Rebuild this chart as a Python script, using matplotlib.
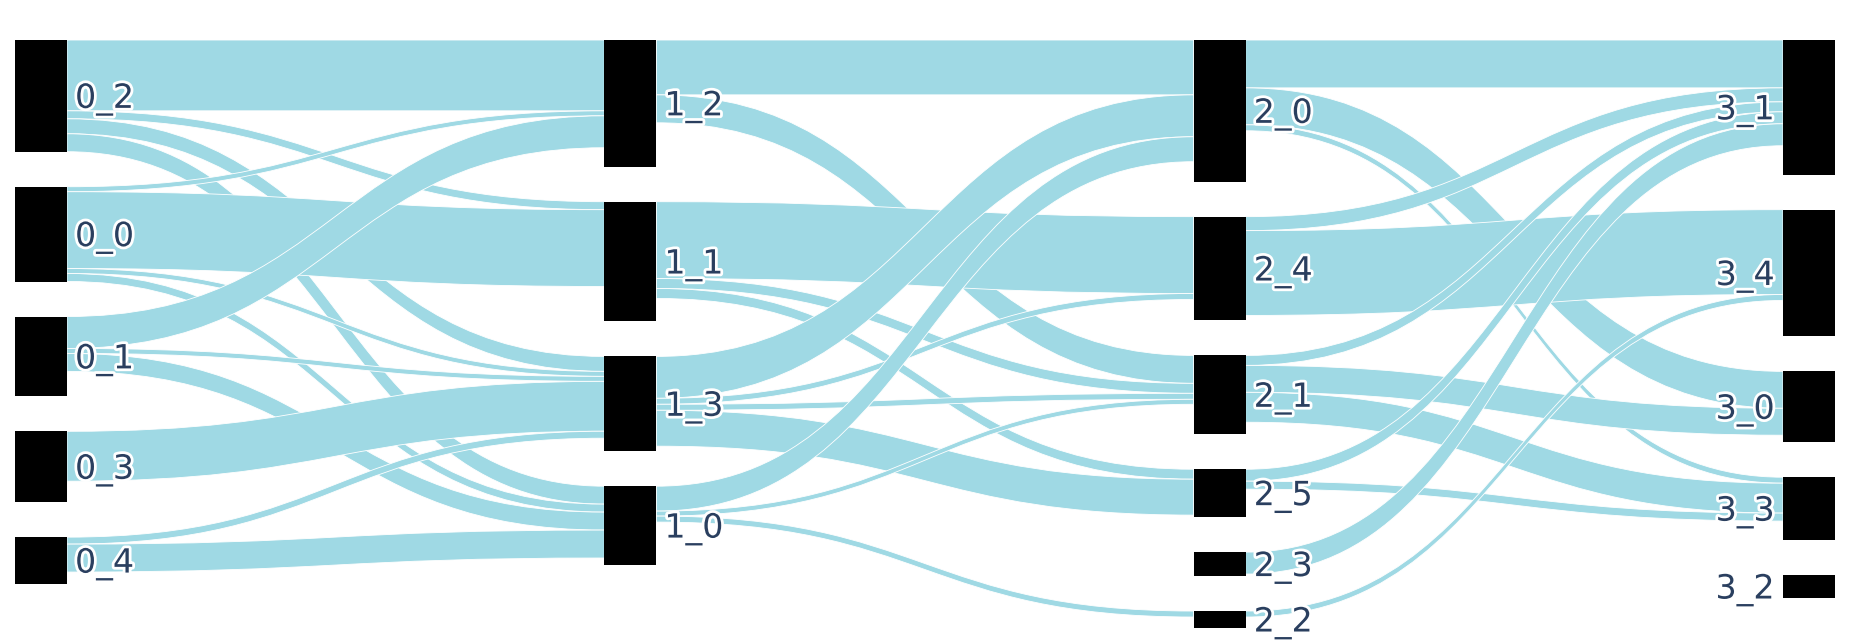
import matplotlib
matplotlib.use("Agg")
import matplotlib.pyplot as plt
from matplotlib.path import Path
from matplotlib.patches import PathPatch, Rectangle
import matplotlib.patheffects as pe

# nodes per layer, top to bottom, with their sizes
layer0 = ["0_2", "0_0", "0_1", "0_3", "0_4"]
layer0_size = [112, 95, 80, 71, 47]
layer1 = ["1_2", "1_1", "1_3", "1_0"]
layer1_size = [127, 120, 95, 79]
layer2 = ["2_0", "2_4", "2_1", "2_5", "2_3", "2_2"]
layer2_size = [142, 104, 79, 48, 24, 17]
layer3 = ["3_1", "3_4", "3_0", "3_3", "3_2"]
layer3_size = [135, 127, 71, 63, 23]

# flows
src = ["0_2", "0_2", "0_2", "0_2",
       "0_0", "0_0", "0_0", "0_0",
       "0_1", "0_1", "0_1",
       "0_3",
       "0_4", "0_4",
       "1_2", "1_2",
       "1_1", "1_1", "1_1",
       "1_3", "1_3", "1_3", "1_3",
       "1_0", "1_0", "1_0",
       "2_0", "2_0", "2_0",
       "2_4", "2_4",
       "2_1", "2_1", "2_1",
       "2_5", "2_5",
       "2_3",
       "2_2"]
dst = ["1_2", "1_1", "1_3", "1_0",
       "1_2", "1_1", "1_3", "1_0",
       "1_2", "1_3", "1_0",
       "1_3",
       "1_3", "1_0",
       "2_0", "2_1",
       "2_4", "2_1", "2_5",
       "2_0", "2_4", "2_1", "2_5",
       "2_0", "2_1", "2_2",
       "3_1", "3_0", "3_3",
       "3_1", "3_4",
       "3_1", "3_0", "3_3",
       "3_1", "3_3",
       "3_1",
       "3_4"]
flow = [71, 8, 15, 18,
        5, 77, 5, 8,
        32, 5, 18,
        50,
        7, 28,
        55, 28,
        77, 10, 10,
        42, 6, 6, 36,
        25, 5, 6,
        48, 37, 6,
        14, 85,
        10, 27, 30,
        12, 8,
        22,
        6]

W, H = 1850, 642
node_w = 52
pad_x = 15
gap = 35
top, bottom = 40, 628
link_color = "#9fd9e4"
text_color = "#2a3f5f"

layers = [(layer0, layer0_size), (layer1, layer1_size),
          (layer2, layer2_size), (layer3, layer3_size)]
ncol = len(layers)
col_step = (W - 2 * pad_x - node_w) / (ncol - 1)

ky = min((bottom - top - (len(n) - 1) * gap) / sum(s) for n, s in layers)

pos = {}
for ci, (names, sizes) in enumerate(layers):
    y = top
    for name, s in zip(names, sizes):
        h = s * ky
        pos[name] = (ci, pad_x + ci * col_step, y, h)
        y += h + gap

# stacking offsets of links at each node (plotly-like ordering)
links = list(zip(src, dst, flow))
out_off, in_off = {}, {}
for name in pos:
    outs = sorted([i for i, l in enumerate(links) if l[0] == name], key=lambda i: pos[links[i][1]][2])
    y = pos[name][2]
    for i in outs:
        out_off[i] = y
        y += links[i][2] * ky
    ins = sorted([i for i, l in enumerate(links) if l[1] == name], key=lambda i: pos[links[i][0]][2])
    y = pos[name][2]
    for i in ins:
        in_off[i] = y
        y += links[i][2] * ky

fig = plt.figure(figsize=(W / 100, H / 100), dpi=100)
ax = fig.add_axes([0, 0, 1, 1])
ax.set_xlim(0, W)
ax.set_ylim(H, 0)
ax.axis("off")

for i, (s, t, v) in enumerate(links):
    x0 = pos[s][1] + node_w
    x1 = pos[t][1]
    xm = (x0 + x1) / 2
    h = v * ky
    a0, b0 = out_off[i], in_off[i]
    a1, b1 = a0 + h, b0 + h
    verts = [(x0, a0), (xm, a0), (xm, b0), (x1, b0),
             (x1, b1), (xm, b1), (xm, a1), (x0, a1), (x0, a0)]
    codes = [Path.MOVETO, Path.CURVE4, Path.CURVE4, Path.CURVE4,
             Path.LINETO, Path.CURVE4, Path.CURVE4, Path.CURVE4, Path.CLOSEPOLY]
    ax.add_patch(PathPatch(Path(verts, codes), facecolor=link_color,
                           edgecolor="white", lw=0.6, zorder=1))

fs = 24
em = fs * 100 / 72
for name, (ci, x, y, h) in pos.items():
    ax.add_patch(Rectangle((x, y), node_w, h, facecolor="black", edgecolor="none", zorder=2))
    if ci < ncol - 1:
        tx, ha = x + node_w + 8, "left"
    else:
        tx, ha = x - 8, "right"
    ax.text(tx, y + h / 2 + 0.36 * em, name, ha=ha, va="baseline", fontsize=fs,
            color=text_color, family="DejaVu Sans", zorder=3,
            path_effects=[pe.withStroke(linewidth=4, foreground="white")])

fig.savefig("out.png", dpi=100, facecolor="white")
